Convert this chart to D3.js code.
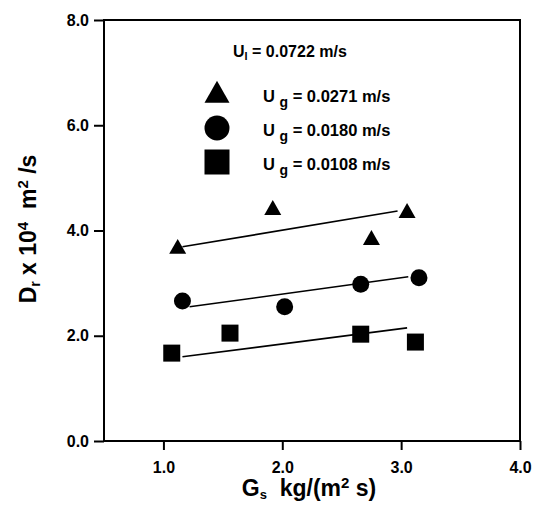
<!DOCTYPE html>
<html>
<head>
<meta charset="utf-8">
<script src="https://cdn.jsdelivr.net/npm/d3@7"></script>
<style>
body{margin:0;background:#fff;}
svg{font-family:"Liberation Sans",Arial,sans-serif;font-weight:bold;}
</style>
</head>
<body>
<svg id="c" width="536" height="506"></svg>
<script>
// ---- data ----
const xTicks = [1.0, 2.0, 3.0, 4.0];
const yTicks = [0.0, 2.0, 4.0, 6.0, 8.0];
const seriesNames = ["0.0271", "0.0180", "0.0108"];
const seriesShapes = ["triangle", "circle", "square"];
const triX = [1.12, 1.92, 2.75, 3.05];
const triY = [3.67, 4.41, 3.84, 4.35];
const cirX = [1.16, 2.02, 2.66, 3.15];
const cirY = [2.66, 2.55, 2.98, 3.10];
const sqX  = [1.07, 1.56, 2.66, 3.12];
const sqY  = [1.67, 2.05, 2.03, 1.88];
const fitTriX = [1.16, 2.97], fitTriY = [3.69, 4.37];
const fitCirX = [1.22, 3.06], fitCirY = [2.55, 3.12];
const fitSqX  = [1.16, 3.05], fitSqY  = [1.60, 2.15];
const ulLabel = "0.0722";

const svg = d3.select("#c");
const L = 104, R = 520, T = 20, B = 441;
const x = d3.scaleLinear().domain([0.5, 4.0]).range([L, R]);
const y = d3.scaleLinear().domain([0, 8]).range([B, T]);

// frame
svg.append("rect").attr("x", L).attr("y", T).attr("width", R - L).attr("height", B - T)
  .attr("fill", "none").attr("stroke", "#000").attr("stroke-width", 2);

// axes
const xa = svg.append("g").attr("transform", `translate(0,${B})`)
  .call(d3.axisBottom(x).tickValues(xTicks).tickSize(9).tickFormat(d3.format(".1f")));
const ya = svg.append("g").attr("transform", `translate(${L},0)`)
  .call(d3.axisLeft(y).tickValues(yTicks).tickSize(10).tickPadding(5).tickFormat(d3.format(".1f")));
[xa, ya].forEach(a => {
  a.select(".domain").remove();
  a.selectAll("line").attr("stroke", "#000").attr("stroke-width", 2);
  a.selectAll("text").attr("fill", "#000").attr("font-size", 16)
    .attr("font-family", "Liberation Sans, Arial, sans-serif").attr("font-weight", "bold");
});
xa.selectAll("text").attr("y", 32).attr("dy", 0);

// axis titles
const xt = svg.append("text").attr("x", 309).attr("y", 496).attr("text-anchor", "middle")
  .attr("font-size", 23).attr("fill", "#000");
xt.append("tspan").text("G");
xt.append("tspan").attr("font-size", 13).attr("dy", 3).text("s");
xt.append("tspan").attr("dy", -3).text("\u00a0 kg/(m");
xt.append("tspan").attr("font-size", 15).attr("dy", -8).text("2");
xt.append("tspan").attr("dy", 8).text(" s)");

const yt = svg.append("text").attr("transform", "translate(36,229) rotate(-90)")
  .attr("text-anchor", "middle").attr("font-size", 23).attr("fill", "#000");
yt.append("tspan").text("D");
yt.append("tspan").attr("font-size", 14).attr("dy", 4).text("r");
yt.append("tspan").attr("dy", -4).text(" x 10");
yt.append("tspan").attr("font-size", 15).attr("dy", -8).text("4");
yt.append("tspan").attr("dy", 8).text("\u00a0 m");
yt.append("tspan").attr("font-size", 15).attr("dy", -8).text("2");
yt.append("tspan").attr("dy", 8).text(" /s");

// fit lines
const fits = [[fitTriX, fitTriY], [fitCirX, fitCirY], [fitSqX, fitSqY]];
fits.forEach(([fx, fy]) => {
  svg.append("line").attr("x1", x(fx[0])).attr("y1", y(fy[0]))
    .attr("x2", x(fx[1])).attr("y2", y(fy[1]))
    .attr("stroke", "#000").attr("stroke-width", 1.6);
});

// markers
function drawMarker(g, shape, cx, cy, size) {
  if (shape === "circle") {
    g.append("circle").attr("cx", cx).attr("cy", cy).attr("r", size / 2).attr("fill", "#000");
  } else if (shape === "square") {
    g.append("rect").attr("x", cx - size / 2).attr("y", cy - size / 2)
      .attr("width", size).attr("height", size).attr("fill", "#000");
  } else {
    const h = size * 0.88;
    g.append("path").attr("d", `M${cx},${cy - h * 0.6}L${cx + size / 2},${cy + h * 0.4}L${cx - size / 2},${cy + h * 0.4}Z`)
      .attr("fill", "#000");
  }
}
const pts = [[triX, triY], [cirX, cirY], [sqX, sqY]];
const mg = svg.append("g");
pts.forEach(([xs, ys], i) => {
  xs.forEach((v, j) => drawMarker(mg, seriesShapes[i], x(v), y(ys[j]), 17));
});

// legend
const ul = svg.append("text").attr("x", 233).attr("y", 57).attr("font-size", 16).attr("fill", "#000");
ul.append("tspan").text("U");
ul.append("tspan").attr("font-size", 11).attr("dy", 3).text("l");
ul.append("tspan").attr("dy", -3).text(` = ${ulLabel} m/s`);

const rowY = [94, 128, 162];
seriesNames.forEach((n, i) => {
  drawMarker(svg, seriesShapes[i], 217, rowY[i], 25);
  const t = svg.append("text").attr("x", 263).attr("y", rowY[i] + 8).attr("font-size", 16.5).attr("fill", "#000");
  t.append("tspan").text("U ");
  t.append("tspan").attr("font-size", 14).attr("dy", 5).text("g");
  t.append("tspan").attr("dy", -5).text(` = ${n} m/s`);
});
</script>
</body>
</html>
